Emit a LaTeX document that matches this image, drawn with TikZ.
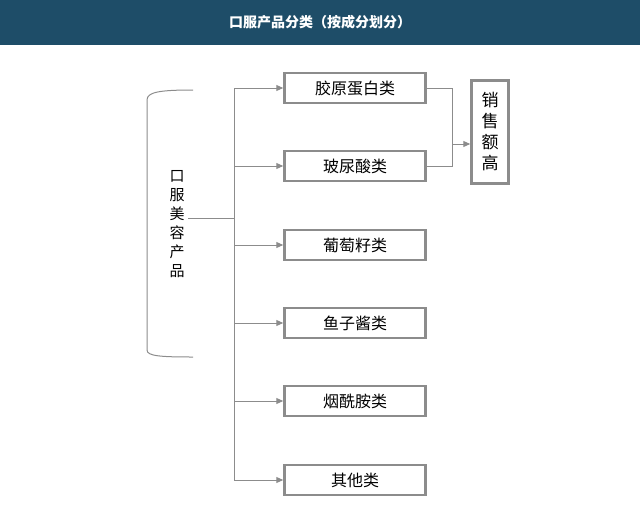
\documentclass[tikz,border=0pt]{standalone}
\usepackage{fontspec}
\newfontfamily\cjk{Noto Sans CJK SC}
\usetikzlibrary{arrows.meta}
\definecolor{banner}{HTML}{1E4D68}
\definecolor{edgegray}{HTML}{8C8C8C}
\begin{document}
\begin{tikzpicture}[x=1pt,y=-1pt,font=\cjk\fontsize{16}{18}\selectfont,
  catbox/.style={draw=edgegray, line width=2.5pt, minimum width=141pt, minimum height=30pt, inner sep=0pt},
  link/.style={draw=edgegray, line width=1pt},
  arr/.style={link, -{Triangle[length=7pt,width=6pt]}}]
  \useasboundingbox (0,0) rectangle (640,517);
  \fill[banner] (0,0) rectangle (640,45);
  \node[text=white, font=\cjk\fontsize{14}{16}\selectfont\bfseries] (title) at (320,22) {口服产品分类（按成分划分）};

  \node[catbox] (b1) at (355,88) {胶原蛋白类};
  \node[catbox] (b2) at (355,166) {玻尿酸类};
  \node[catbox] (b3) at (355,245) {葡萄籽类};
  \node[catbox] (b4) at (355,323) {鱼子酱类};
  \node[catbox] (b5) at (355,401) {烟酰胺类};
  \node[catbox] (b6) at (355,480) {其他类};
  \node[draw=edgegray, line width=2.5pt, minimum width=37pt, minimum height=103pt, inner sep=0pt,
        align=center, font=\cjk\fontsize{17}{21}\selectfont] (sales) at (490,132) {销\\售\\额\\高};

  \node[align=center, font=\cjk\fontsize{15}{19}\selectfont] (root) at (177,224) {口\\服\\美\\容\\产\\品};
  \draw[link] (193,90) .. controls (160,90) and (147,92) .. (147,100) -- (147,350)
     .. controls (147,356) and (160,357) .. (193,357);

  \coordinate (trunk) at (234,218);
  \draw[link] (root.east |- trunk) -- (trunk);
  \draw[link] (234,88) -- (234,480);
  \foreach \b in {b1,b2,b3,b4,b5,b6}
    \draw[arr] (234,0 |- \b.west) -- (\b.west);

  \coordinate (join) at (452,144);
  \draw[link] (b1.east) -| (join);
  \draw[link] (b2.east) -| (join);
  \draw[arr] (join) -- (sales.west |- join);
\end{tikzpicture}
\end{document}
